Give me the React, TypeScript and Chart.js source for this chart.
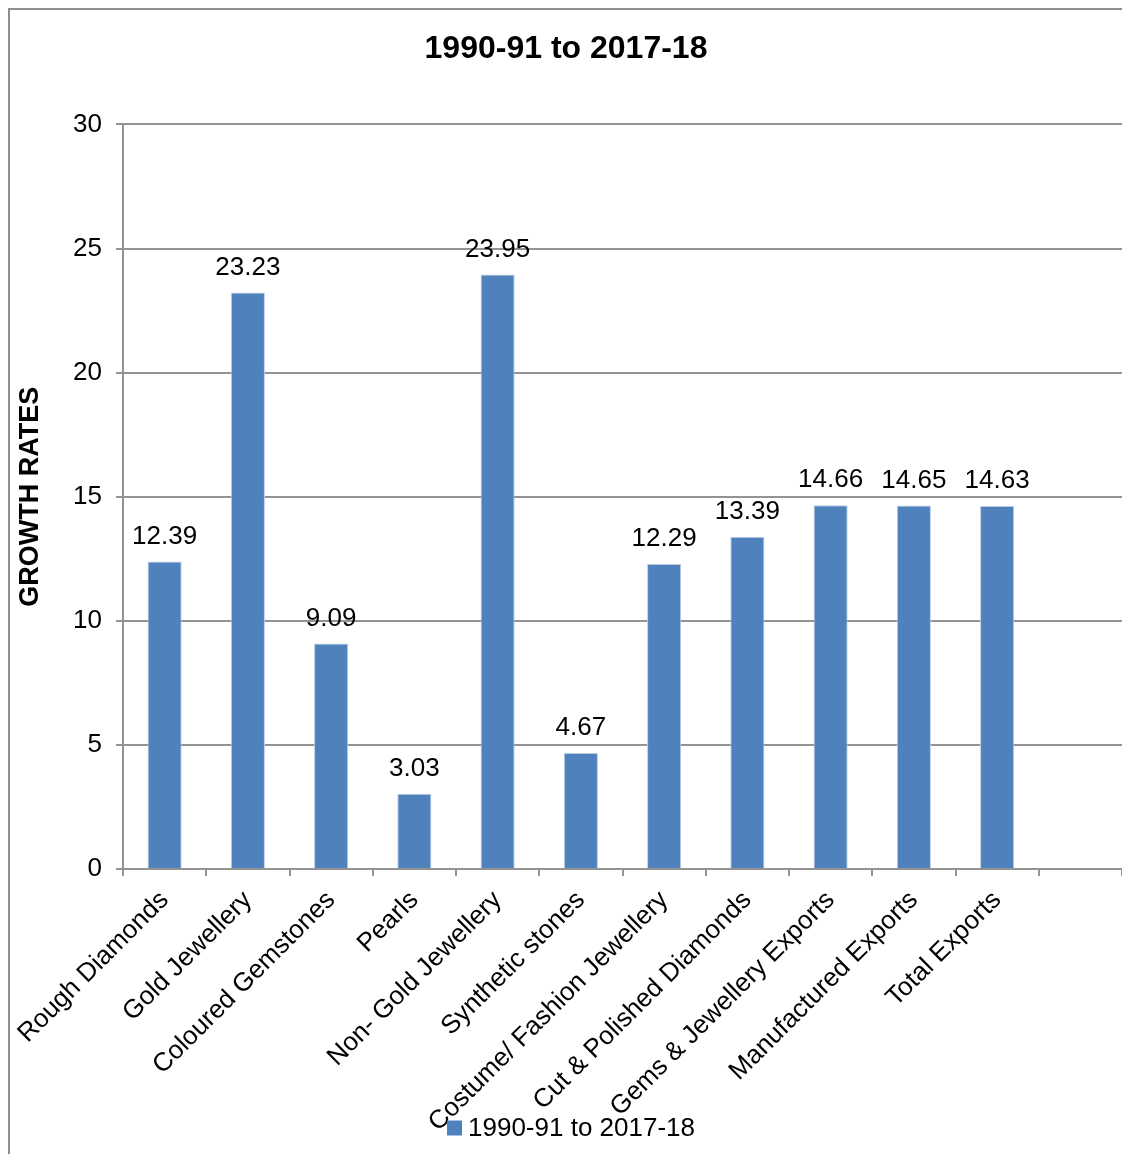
import { useEffect, useRef } from "react";
import { Chart, registerables } from "chart.js";

Chart.register(...registerables);

const categories = [
  "Rough Diamonds",
  "Gold Jewellery",
  "Coloured Gemstones",
  "Pearls",
  "Non- Gold Jewellery",
  "Synthetic stones",
  "Costume/ Fashion Jewellery",
  "Cut & Polished Diamonds",
  "Gems & Jewellery Exports",
  "Manufactured Exports",
  "Total Exports",
  "",
];
const growthRates: (number | null)[] = [12.39, 23.23, 9.09, 3.03, 23.95, 4.67, 12.29, 13.39, 14.66, 14.65, 14.63, null];
const yMin = 0;
const yMax = 30;
const yStep = 5;
const seriesLabel = "1990-91 to 2017-18";
const chartTitle = "1990-91 to 2017-18";
const yAxisTitle = "GROWTH RATES";

const FONT = "'Liberation Sans', Arial, sans-serif";
const GRID = "#939393";
const BAR = "#4F81BD";

const valueLabels = {
  id: "valueLabels",
  afterDatasetsDraw(chart: any) {
    const ctx = chart.ctx;
    const meta = chart.getDatasetMeta(0);
    const data = chart.data.datasets[0].data;
    ctx.save();
    ctx.font = `26px ${FONT}`;
    ctx.fillStyle = "#000";
    ctx.textAlign = "center";
    ctx.textBaseline = "middle";
    meta.data.forEach((el: any, i: number) => {
      const v = data[i];
      if (v === null || v === undefined) return;
      ctx.fillText(Number(v).toFixed(2), el.x, el.y - 25);
    });
    ctx.restore();
  },
};

const bottomLegend = {
  id: "bottomLegend",
  afterDraw(chart: any) {
    const ctx = chart.ctx;
    const ds = chart.data.datasets[0];
    ctx.save();
    ctx.font = `26px ${FONT}`;
    const tw = ctx.measureText(ds.label).width;
    const box = 15;
    const gap = 6;
    const total = box + gap + tw;
    const cx = chart.width / 2 + 5;
    const cy = chart.height - 26;
    const x0 = cx - total / 2;
    ctx.fillStyle = ds.backgroundColor;
    ctx.fillRect(x0, cy - box / 2, box, box);
    ctx.fillStyle = "#000";
    ctx.textAlign = "left";
    ctx.textBaseline = "middle";
    ctx.fillText(ds.label, x0 + box + gap, cy + 1);
    ctx.restore();
  },
};

export default function App() {
  const ref = useRef<HTMLCanvasElement | null>(null);

  useEffect(() => {
    document.documentElement.style.overflow = "hidden";
    document.body.style.overflow = "hidden";
    if (!ref.current) return;
    const chart = new Chart(ref.current, {
      type: "bar",
      data: {
        labels: categories,
        datasets: [
          {
            label: seriesLabel,
            data: growthRates,
            backgroundColor: BAR,
            borderColor: "#bccde3",
            borderWidth: 1,
            barPercentage: 0.41,
            categoryPercentage: 1,
          },
        ],
      },
      options: {
        animation: false,
        responsive: false,
        maintainAspectRatio: false,
        devicePixelRatio: 1,
        layout: { padding: { left: 0, right: 0, top: 0, bottom: 0 } },
        plugins: {
          title: {
            display: true,
            text: chartTitle,
            color: "#000",
            font: { family: FONT, size: 32, weight: "bold" },
            padding: { top: 20, bottom: 56 },
          },
          legend: { display: false },
          tooltip: { enabled: false },
        },
        scales: {
          x: {
            offset: true,
            grid: {
              display: true,
              drawOnChartArea: false,
              drawTicks: true,
              tickLength: 7,
              color: GRID,
              lineWidth: 2,
              offset: true,
            },
            border: { display: true, color: GRID, width: 2 },
            ticks: {
              autoSkip: false,
              maxRotation: 45,
              minRotation: 45,
              color: "#000",
              font: { family: FONT, size: 26 },
              padding: 9,
            },
            afterFit: (s: any) => {
              s.height = 285;
              s.paddingRight = 0;
              s.paddingLeft = 0;
            },
          },
          y: {
            min: yMin,
            max: yMax,
            ticks: {
              stepSize: yStep,
              color: "#000",
              font: { family: FONT, size: 26 },
              padding: 14,
            },
            grid: { color: GRID, lineWidth: 2, tickLength: 7 },
            border: { display: true, color: GRID, width: 2 },
            title: {
              display: true,
              text: yAxisTitle,
              color: "#000",
              font: { family: FONT, size: 27, weight: "bold" },
              padding: { top: 4, bottom: 0 },
            },
            afterFit: (s: any) => {
              s.width = 113;
            },
          },
        },
      },
      plugins: [valueLabels, bottomLegend],
    });
    return () => chart.destroy();
  }, []);

  return (
    <div
      style={{
        position: "fixed",
        left: 8,
        top: 8,
        width: 1112,
        height: 1144,
        borderLeft: "2px solid #8f8f8f",
        borderTop: "2px solid #8f8f8f",
        overflow: "hidden",
        background: "#fff",
      }}
    >
      <canvas ref={ref} width={1112} height={1144} style={{ display: "block", width: 1112, height: 1144 }} />
    </div>
  );
}
